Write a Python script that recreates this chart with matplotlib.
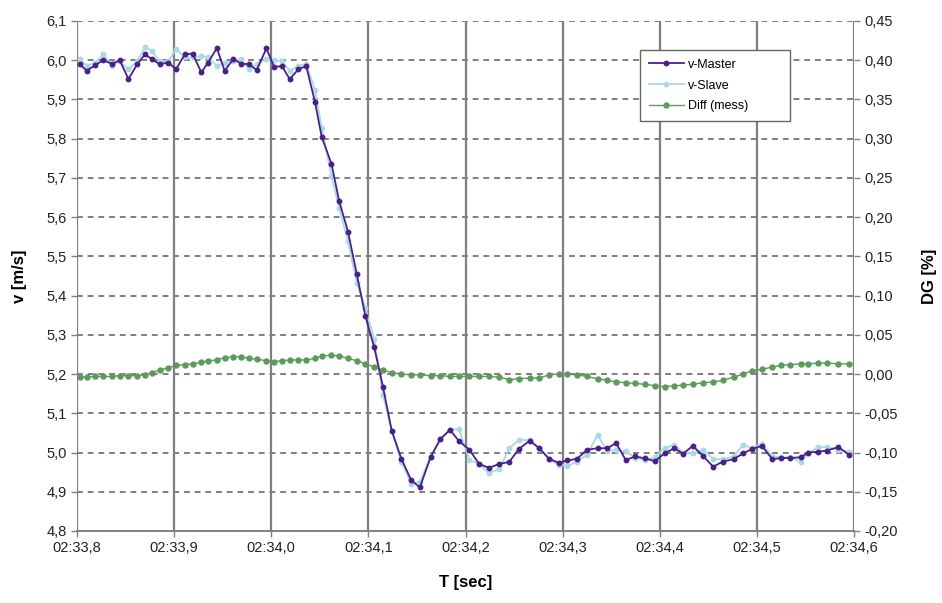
import matplotlib
matplotlib.use("Agg")
import matplotlib.pyplot as plt
from matplotlib.ticker import FuncFormatter, FixedLocator
import numpy as np

plt.rcParams['font.family'] = ['Liberation Sans', 'DejaVu Sans']

# time in seconds after 02:33:00
t = [33.803, 33.810, 33.819, 33.827, 33.836, 33.844, 33.853, 33.862, 33.870, 33.877,
     33.885, 33.894, 33.902, 33.911, 33.919, 33.928, 33.935, 33.944, 33.952, 33.961,
     33.969, 33.977, 33.985, 33.995, 34.003, 34.011, 34.019, 34.028, 34.036,
     34.045, 34.052, 34.062, 34.070, 34.079, 34.088, 34.097, 34.106, 34.115,
     34.124, 34.134, 34.144, 34.153, 34.164, 34.174, 34.184, 34.193, 34.204, 34.214,
     34.224, 34.235, 34.245, 34.255, 34.266, 34.276, 34.286, 34.296, 34.305, 34.315,
     34.325, 34.336, 34.346, 34.355, 34.365, 34.375, 34.385, 34.395, 34.405, 34.415,
     34.424, 34.434, 34.445, 34.455, 34.465, 34.476, 34.486, 34.495, 34.505, 34.516,
     34.525, 34.534, 34.545, 34.553, 34.563, 34.572, 34.584, 34.595]

v_master = [5.990, 5.973, 5.988, 6.000, 5.991, 6.000, 5.952, 5.990, 6.015, 6.003,
            5.990, 5.994, 5.977, 6.015, 6.017, 5.969, 5.994, 6.031, 5.973, 6.003,
            5.991, 5.990, 5.975, 6.030, 5.983, 5.985, 5.952, 5.977, 5.985,
            5.894, 5.804, 5.736, 5.640, 5.563, 5.455, 5.347, 5.268, 5.168,
            5.056, 4.984, 4.930, 4.911, 4.988, 5.034, 5.058, 5.030, 5.007, 4.971,
            4.961, 4.971, 4.976, 5.009, 5.030, 5.011, 4.984, 4.974, 4.980, 4.984,
            5.007, 5.011, 5.011, 5.024, 4.981, 4.990, 4.985, 4.978, 4.998, 5.011,
            4.997, 5.017, 4.990, 4.964, 4.977, 4.983, 4.998, 5.009, 5.017, 4.983,
            4.986, 4.986, 4.988, 5.000, 5.002, 5.005, 5.014, 4.994]

v_slave = [6.003, 5.986, 5.994, 6.015, 5.986, 5.997, 5.977, 5.997, 6.034, 6.024,
           5.998, 5.997, 6.028, 6.007, 6.007, 6.011, 6.007, 5.986, 5.994, 5.998,
           6.003, 5.977, 5.990, 6.003, 6.000, 5.998, 5.973, 5.986, 5.990,
           5.925, 5.828, 5.704, 5.623, 5.538, 5.432, 5.368, 5.290, 5.147,
           5.056, 4.977, 4.920, 4.926, 4.988, 5.034, 5.058, 5.060, 4.981, 4.971,
           4.947, 4.958, 5.011, 5.032, 5.032, 5.011, 4.984, 4.969, 4.966, 4.977,
           4.994, 5.045, 5.003, 5.007, 5.003, 4.986, 4.981, 4.988, 5.011, 5.020,
           5.000, 4.999, 5.007, 4.983, 4.983, 4.990, 5.020, 5.011, 5.022, 4.990,
           4.988, 4.988, 4.977, 4.998, 5.014, 5.014, 5.007, 5.002]

diff = [-0.004, -0.004, -0.003, -0.003, -0.003, -0.002, -0.002, -0.002, -0.001, 0.002,
        0.005, 0.008, 0.011, 0.012, 0.013, 0.015, 0.017, 0.018, 0.021, 0.022,
        0.022, 0.020, 0.019, 0.017, 0.016, 0.017, 0.018, 0.018, 0.018,
        0.020, 0.023, 0.024, 0.023, 0.020, 0.017, 0.013, 0.009, 0.005,
        0.002, 0.000, -0.001, -0.001, -0.002, -0.002, -0.003, -0.003, -0.003, -0.003,
        -0.003, -0.004, -0.007, -0.006, -0.005, -0.005, -0.001, 0.000, 0.000, -0.001,
        -0.003, -0.006, -0.008, -0.010, -0.011, -0.012, -0.013, -0.015, -0.016, -0.015,
        -0.014, -0.013, -0.011, -0.010, -0.008, -0.004, 0.000, 0.004, 0.006, 0.009,
        0.011, 0.012, 0.013, 0.013, 0.014, 0.014, 0.013, 0.013]

x_ticks = [33.8, 33.9, 34.0, 34.1, 34.2, 34.3, 34.4, 34.5, 34.6]
left_ticks = [4.8, 4.9, 5.0, 5.1, 5.2, 5.3, 5.4, 5.5, 5.6, 5.7, 5.8, 5.9, 6.0, 6.1]
right_ticks = [-0.20, -0.15, -0.10, -0.05, 0.00, 0.05, 0.10, 0.15, 0.20, 0.25, 0.30, 0.35, 0.40, 0.45]

c_master = '#4a2088'
c_slave = '#a9d9e3'
c_diff = '#5c9b5a'
grid_c = '#7f7f7f'

fig = plt.figure(figsize=(9.42, 6.03), dpi=100)
ax = fig.add_axes([77/942, 1-531/603, 777/942, 510/603])
ax2 = ax.twinx()

ax.set_xlim(33.8, 34.6)
ax.set_ylim(4.8, 6.1)
ax2.set_ylim(-0.20, 0.45)

ax.xaxis.set_major_locator(FixedLocator(x_ticks))
ax.yaxis.set_major_locator(FixedLocator(left_ticks))
ax2.yaxis.set_major_locator(FixedLocator(right_ticks))

def fmt_time(v, pos):
    sec = int(np.floor(v + 1e-9))
    frac = int(round((v - sec) * 10)) % 10
    return "02:%02d,%d" % (sec, frac)

ax.xaxis.set_major_formatter(FuncFormatter(fmt_time))
ax.yaxis.set_major_formatter(FuncFormatter(lambda v, p: ("%.1f" % v).replace('.', ',')))
ax2.yaxis.set_major_formatter(FuncFormatter(lambda v, p: ("%.2f" % v).replace('.', ',').replace('-0,00', '0,00')))

# grid
for xv in x_ticks:
    ax.axvline(xv, color=grid_c, lw=1.6, zorder=0.5)
for yv in left_ticks[1:]:
    ax.axhline(yv, color=grid_c, lw=1.4, ls=(0, (3.0, 2.5)), zorder=0.5)

for a in (ax, ax2):
    for s in a.spines.values():
        s.set_visible(False)
ax.spines['bottom'].set_visible(True)
ax.spines['bottom'].set_color(grid_c)
ax.spines['bottom'].set_linewidth(1.4)

ax.tick_params(axis='both', labelsize=10.5, color=grid_c, length=4, width=1, colors='#222222')
ax.tick_params(axis='y', direction='out')
ax2.tick_params(axis='y', labelsize=10.5, color=grid_c, length=4, width=1, colors='#222222')

l1, = ax.plot(t, v_master, color=c_master, lw=1.3, marker='o', ms=3.2, zorder=3, label='v-Master')
l2, = ax.plot(t, v_slave, color=c_slave, lw=1.3, marker='o', ms=3.2, zorder=2.5, label='v-Slave')
l3, = ax2.plot(t, diff, color=c_diff, lw=1.0, marker='o', ms=3.6, zorder=3, label='Diff (mess)')
ax.set_zorder(2)
ax2.set_zorder(1)
ax.patch.set_visible(False)
ax2.patch.set_visible(True)
ax2.patch.set_facecolor('white')

ax.set_xlabel('T [sec]', fontsize=12, fontweight='bold', labelpad=14)
ax.set_ylabel('v [m/s]', fontsize=12, fontweight='bold', labelpad=14)
ax2.set_ylabel('DG [%]', fontsize=12, fontweight='bold', labelpad=17)

leg_w = 150 / 777
leg_h = 72 / 510
leg = ax.legend(handles=[l1, l2, l3], loc='upper left',
                bbox_to_anchor=(0.7246, 0.943 - leg_h, leg_w, leg_h), mode='expand',
                fontsize=9, frameon=True, fancybox=False, framealpha=1,
                edgecolor='#666666', handlelength=2.8, borderpad=0.7, labelspacing=0.7,
                handletextpad=0.3, borderaxespad=0)
leg.get_frame().set_linewidth(1.0)

fig.savefig('out.png', dpi=100, facecolor='white')
